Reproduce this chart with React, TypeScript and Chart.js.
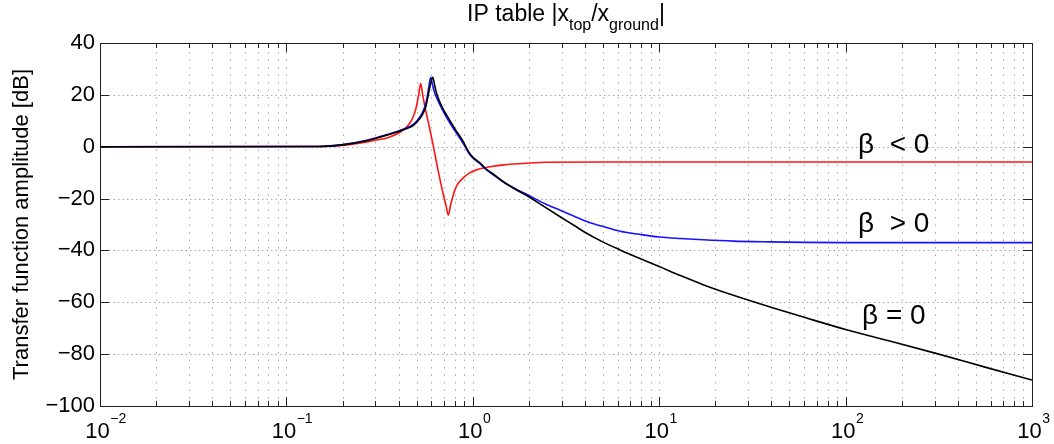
import React, { useEffect, useRef } from "react";
import { Chart, registerables } from "chart.js";

Chart.register(...registerables);

const FONT = "'Liberation Sans', Arial, Helvetica, sans-serif";

// ---- data ----
const redFreq = [0.01, 0.15, 0.2, 0.25, 0.3, 0.35, 0.407, 0.44, 0.47, 0.49, 0.5, 0.515, 0.525, 0.54, 0.555, 0.585, 0.614, 0.65, 0.69, 0.72, 0.739, 0.76, 0.79, 0.82, 0.88, 0.966, 1.05, 1.163, 1.3, 1.458, 2, 2.5, 5, 20, 100, 1000];
const redDb = [0, 0.1, 0.5, 1.4, 2.5, 3.5, 5.6, 7.5, 10.3, 13.5, 16, 21, 24.4, 19.5, 15, 7.5, 0.3, -8.8, -17.5, -23, -26.4, -22.5, -18, -15, -12.3, -10, -8.9, -8.1, -7.5, -7, -6.3, -6, -5.9, -5.9, -5.9, -5.9];

const blueFreq = [0.01, 0.15, 0.2, 0.27, 0.318, 0.4, 0.45, 0.48, 0.52, 0.54, 0.56, 0.575, 0.585, 0.595, 0.605, 0.62, 0.653, 0.69, 0.724, 0.8, 0.889, 0.95, 1.0, 1.093, 1.163, 1.3, 1.458, 1.7, 2, 2.44, 2.94, 3.5, 4.08, 5, 6.17, 8, 10, 13, 17.2, 25, 39.3, 60, 100, 1000];
const blueDb = [0, 0.1, 0.8, 2.5, 3.9, 6.1, 7.5, 8.6, 11.5, 13.6, 16.8, 21, 24.5, 26.8, 24.5, 21.5, 17.5, 14, 11.2, 6.2, 1.2, -2.4, -4.3, -6.5, -8.5, -11, -13.6, -16.3, -18.8, -22, -24.5, -26.8, -28.8, -30.8, -32.6, -33.9, -34.8, -35.4, -35.9, -36.4, -36.7, -36.9, -37, -37];

const blackFreq = [0.01, 0.15, 0.2, 0.27, 0.318, 0.4, 0.45, 0.48, 0.52, 0.54, 0.56, 0.575, 0.59, 0.61, 0.625, 0.64, 0.653, 0.69, 0.724, 0.8, 0.889, 0.95, 1.0, 1.093, 1.163, 1.3, 1.458, 1.7, 2, 2.44, 2.94, 3.5, 4.08, 5, 6.17, 8, 10, 13, 17.2, 25, 39.3, 60, 100, 180, 316, 560, 1000];
const blackDb = [0, 0.1, 0.7, 2.3, 3.7, 5.9, 7.2, 8.2, 10.9, 12.8, 15.5, 19.5, 23.5, 26.8, 23.5, 20.5, 18.7, 14.8, 12.2, 7, 2, -2, -4, -6.2, -8.2, -10.8, -13.5, -16.5, -19.3, -23.3, -27, -30.4, -33.4, -36.8, -39.8, -43.3, -46.2, -49.7, -53.2, -57.3, -61.8, -65.8, -70.5, -75.3, -80, -85, -90];

// axis ticks
const xDecadeExponents = [-2, -1, 0, 1, 2, 3];
const xMinorMultipliers = [1, 2, 3, 4, 5, 6, 7, 8, 9];
const yMin = -100;
const yMax = 40;
const yStep = 20;

// curve annotations (anchor in data coordinates)
const curveLabelTexts = ["β  < 0", "β  > 0", "β = 0"];
const curveLabelFreq = [116.6, 116.6, 122.5];
const curveLabelDb = [-2.5, -32.8, -68.4];

const xTickValues: number[] = [];
xDecadeExponents.forEach((e, i) => {
  xMinorMultipliers.forEach((m) => {
    if (i === xDecadeExponents.length - 1 && m > 1) return;
    xTickValues.push(Number((m * Math.pow(10, e)).toPrecision(3)));
  });
});

const toPoints = (f: number[], d: number[]) => f.map((v, i) => ({ x: v, y: d[i] }));

const isPow10 = (v: number) => Math.abs(Math.log10(v) - Math.round(Math.log10(v))) < 1e-9;

const matlabAxes = {
  id: "matlabAxes",
  beforeDatasetsDraw(chart: any) {
    const { ctx, chartArea, scales } = chart;
    const { left, right, top, bottom } = chartArea;
    const x = scales.x;
    const y = scales.y;
    ctx.save();
    ctx.lineWidth = 1;
    ctx.strokeStyle = "rgba(110,110,110,0.6)";
    ctx.setLineDash([1.5, 6]);
    for (const t of x.ticks) {
      const px = Math.round(x.getPixelForValue(t.value)) + 0.5;
      if (px <= left + 1 || px >= right - 1) continue;
      ctx.beginPath();
      ctx.moveTo(px, bottom);
      ctx.lineTo(px, top);
      ctx.stroke();
    }
    ctx.setLineDash([1.5, 3]);
    for (const t of y.ticks) {
      const py = Math.round(y.getPixelForValue(t.value)) + 0.5;
      if (py <= top + 1 || py >= bottom - 1) continue;
      ctx.beginPath();
      ctx.moveTo(left, py);
      ctx.lineTo(right, py);
      ctx.stroke();
    }
    ctx.restore();
  },
  afterDatasetsDraw(chart: any) {
    const { ctx, chartArea, scales } = chart;
    const { left, right, top, bottom } = chartArea;
    const x = scales.x;
    const y = scales.y;
    ctx.save();
    ctx.setLineDash([]);
    ctx.strokeStyle = "#222";
    ctx.lineWidth = 1;
    // inward tick marks
    for (const t of x.ticks) {
      const px = Math.round(x.getPixelForValue(t.value)) + 0.5;
      const len = isPow10(t.value) ? 9 : 5;
      ctx.beginPath();
      ctx.moveTo(px, bottom);
      ctx.lineTo(px, bottom - len);
      ctx.moveTo(px, top);
      ctx.lineTo(px, top + len);
      ctx.stroke();
    }
    for (const t of y.ticks) {
      const py = Math.round(y.getPixelForValue(t.value)) + 0.5;
      ctx.beginPath();
      ctx.moveTo(left, py);
      ctx.lineTo(left + 9, py);
      ctx.moveTo(right, py);
      ctx.lineTo(right - 9, py);
      ctx.stroke();
    }
    // box
    ctx.strokeRect(Math.round(left) + 0.5, Math.round(top) + 0.5, Math.round(right - left), Math.round(bottom - top));

    // x tick labels 10^n
    ctx.fillStyle = "#000";
    ctx.textBaseline = "alphabetic";
    ctx.textAlign = "left";
    const baseFont = `22px ${FONT}`;
    const expFont = `14px ${FONT}`;
    for (const t of x.ticks) {
      if (!isPow10(t.value)) continue;
      const e = Math.round(Math.log10(t.value));
      const expText = e < 0 ? "\u2212" + Math.abs(e) : String(e);
      ctx.font = baseFont;
      const w1 = ctx.measureText("10").width;
      const cx = x.getPixelForValue(t.value);
      const sx = cx - w1 * 0.6;
      ctx.fillText("10", sx, 438);
      ctx.font = expFont;
      ctx.fillText(expText, sx + w1 + 0.5, 423);
    }

    // title with subscripts
    const parts: [string, boolean][] = [
      ["IP table |x", false],
      ["top", true],
      ["/x", false],
      ["ground", true],
      ["|", false],
    ];
    const tMain = `23px ${FONT}`;
    const tSub = `16px ${FONT}`;
    let total = 0;
    for (const [s, sub] of parts) {
      ctx.font = sub ? tSub : tMain;
      total += ctx.measureText(s).width;
    }
    let tx = (left + right) / 2 - total / 2;
    for (const [s, sub] of parts) {
      ctx.font = sub ? tSub : tMain;
      ctx.fillText(s, tx, sub ? 30 : 21);
      tx += ctx.measureText(s).width;
    }

    // curve labels
    ctx.font = `28px ${FONT}`;
    curveLabelTexts.forEach((txt, i) => {
      const px = x.getPixelForValue(curveLabelFreq[i]);
      const py = y.getPixelForValue(curveLabelDb[i]);
      ctx.fillText(txt, px, py);
    });
    ctx.restore();
  },
};

export default function App() {
  const ref = useRef<HTMLCanvasElement | null>(null);
  useEffect(() => {
    document.body.style.margin = "0";
    if (!ref.current) return;
    const chart = new Chart(ref.current, {
      type: "line",
      data: {
        datasets: [
          { label: "β = 0", data: toPoints(blackFreq, blackDb), borderColor: "#000", borderWidth: 1.6, pointRadius: 0, fill: false, cubicInterpolationMode: "monotone" },
          { label: "β > 0", data: toPoints(blueFreq, blueDb), borderColor: "rgb(20,20,255)", borderWidth: 1.6, pointRadius: 0, fill: false, cubicInterpolationMode: "monotone" },
          { label: "β < 0", data: toPoints(redFreq, redDb), borderColor: "rgb(255,20,20)", borderWidth: 1.6, pointRadius: 0, fill: false, cubicInterpolationMode: "monotone" },
        ],
      },
      options: {
        animation: false,
        responsive: false,
        devicePixelRatio: 1,
        layout: { padding: { top: 43, right: 22, left: 0, bottom: 0 } },
        plugins: { legend: { display: false }, tooltip: { enabled: false }, title: { display: false } },
        scales: {
          x: {
            type: "logarithmic",
            min: 0.01,
            max: 1000,
            afterBuildTicks: (s: any) => {
              s.ticks = xTickValues.map((v) => ({ value: v, major: isPow10(v) }));
            },
            ticks: { display: false },
            grid: { display: false, drawTicks: false },
            border: { display: false },
            afterFit: (s: any) => {
              s.height = 38;
            },
          },
          y: {
            type: "linear",
            min: yMin,
            max: yMax,
            ticks: {
              stepSize: yStep,
              color: "#000",
              padding: 5,
              font: { family: FONT, size: 22 },
              callback: (v: any) => String(v).replace("-", "\u2212"),
            },
            grid: { display: false, drawTicks: false },
            border: { display: false },
            title: {
              display: true,
              text: "Transfer function amplitude [dB]",
              color: "#000",
              font: { family: FONT, size: 22 },
              padding: { top: 9, bottom: 0 },
            },
            afterFit: (s: any) => {
              s.width = 100;
            },
          },
        },
      } as any,
      plugins: [matlabAxes],
    });
    return () => chart.destroy();
  }, []);
  return <canvas ref={ref} width={1054} height={444} style={{ display: "block" }} />;
}
